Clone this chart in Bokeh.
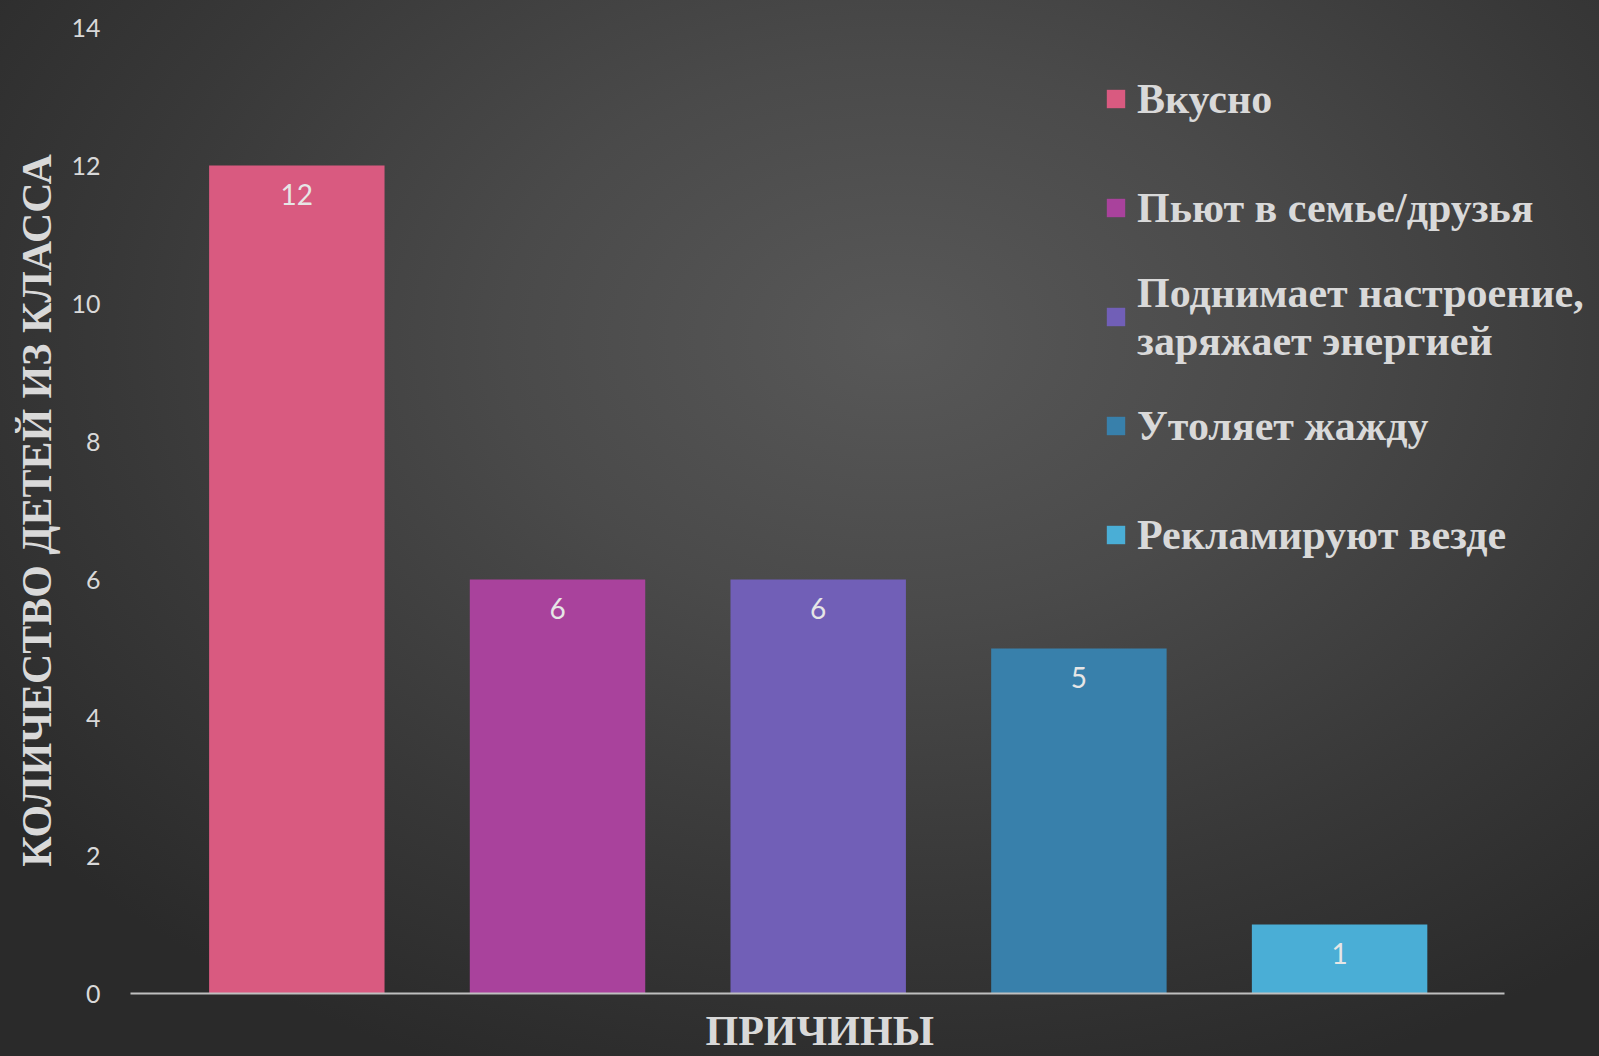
from bokeh.plotting import figure
from bokeh.models import (Range1d, ColumnDataSource, LabelSet, Legend,
                          LegendItem, InlineStyleSheet, FixedTicker, Title)
from bokeh.core.properties import value
from bokeh.embed import file_html
from bokeh.resources import INLINE

# ---- data ----
categories = ["Вкусно", "Пьют в семье/друзья",
              "Поднимает настроение,\nзаряжает энергией",
              "Утоляет жажду", "Рекламируют везде"]
counts = [12, 6, 6, 5, 1]
colors = ["#d95a80", "#a9429c", "#715fb7", "#3880ab", "#4aaed6"]
y_ticks = [0, 2, 4, 6, 8, 10, 12, 14]
x_title = "ПРИЧИНЫ"
y_title = "КОЛИЧЕСТВО ДЕТЕЙ ИЗ КЛАССА"

n = len(categories)
xs = list(range(n))
src = ColumnDataSource(dict(x=xs, top=counts, color=colors,
                            lbl=[str(c) for c in counts]))

# layout of the category axis (in category units)
x_start = -0.638
x_end = 4.997
axis_end = n - 0.5 + 0.133

css = InlineStyleSheet(css=""":host { background: radial-gradient(ellipse 70% 75% at 56% 32%,
 #585858 0%, #4a4a4a 35%, #383838 70%, #2a2a2a 100%); }""")

p = figure(width=1599, height=1056,
           x_range=Range1d(x_start, x_end),
           y_range=Range1d(0, 14),
           output_backend="svg", toolbar_location=None,
           min_border_left=130, min_border_right=0, min_border_top=27, min_border_bottom=63,
           stylesheets=[css])
p.background_fill_alpha = 0
p.border_fill_alpha = 0
p.outline_line_color = None
p.grid.visible = False

r = p.vbar(x="x", top="top", width=0.673, source=src, fill_color="color", line_color=None)

labels = LabelSet(x="x", y="top", text="lbl", source=src, text_align="center",
                  text_baseline="middle", y_offset=-29, text_color="#e6e6e6",
                  text_font=value("Lato"), text_font_size="28px")
p.add_layout(labels)

# y axis
p.yaxis.ticker = FixedTicker(ticks=y_ticks)
p.yaxis.axis_line_color = None
p.yaxis.major_tick_line_color = None
p.yaxis.minor_tick_line_color = None
p.yaxis.major_label_text_font = "Lato"
p.yaxis.major_label_text_font_size = "25px"
p.yaxis.major_label_text_color = "#d9d9d9"
p.yaxis.major_label_standoff = 24
p.yaxis.axis_label = y_title
p.yaxis.axis_label_text_font = "Liberation Serif"
p.yaxis.axis_label_text_font_style = "bold"
p.yaxis.axis_label_text_font_size = "42px"
p.yaxis.axis_label_text_color = "#d9d9d9"
p.yaxis.axis_label_standoff = 8

# x axis
p.xaxis.bounds = (x_start, axis_end)
p.xaxis.ticker = FixedTicker(ticks=[])
p.xaxis.axis_line_color = "#bfbfbf"
p.xaxis.axis_line_width = 2
p.xaxis.major_tick_line_color = None
p.xaxis.minor_tick_line_color = None
p.xaxis.major_label_standoff = 0

# x-axis title, centred under the axis line (not the wider frame)
xt = Title(text=x_title, align="left", offset=575, standoff=-20,
           padding=dict(top=22, bottom=0, left=0, right=0),
           text_font="Liberation Serif", text_font_style="bold",
           text_font_size="42px", text_color="#d9d9d9")
p.add_layout(xt, "below")

items = [LegendItem(label=value(c), renderers=[r], index=i) for i, c in enumerate(categories)]
legend = Legend(items=items, location=(974, 410),
                background_fill_alpha=0, border_line_alpha=0,
                label_text_font="Liberation Serif", label_text_font_style="bold",
                label_text_font_size="42px", label_text_color="#d9d9d9",
                label_text_line_height=1.15,
                glyph_width=23, glyph_height=23, label_standoff=10,
                label_height=97, spacing=12, padding=0, margin=0)
p.add_layout(legend)

open("out.html", "w").write(file_html(p, INLINE))
